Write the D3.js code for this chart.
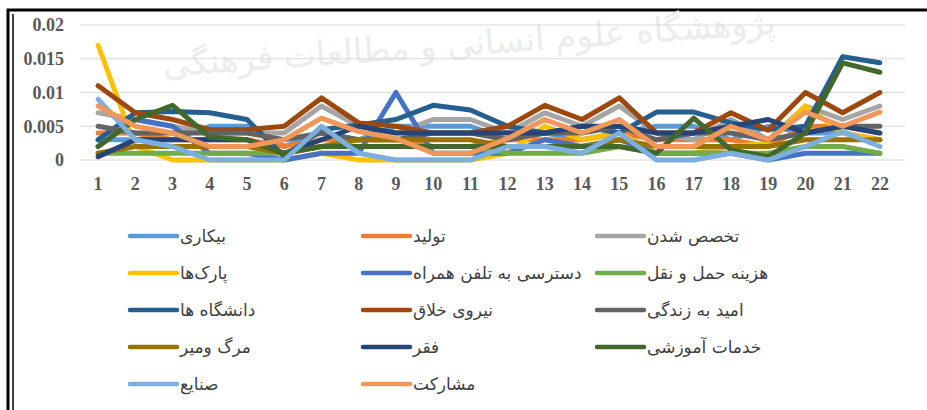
<!DOCTYPE html>
<meta charset="utf-8">
<style>
body { margin: 0; background: #fff; }
.tick text { font-family: "Liberation Serif", serif; font-weight: bold; font-size: 18px; fill: #595959; }
.grid line { stroke: #d9d9d9; stroke-width: 1px; }
.legend text { font-family: "DejaVu Sans", sans-serif; font-size: 17px; fill: #404040; }
</style>
<body>
<svg id="chart" width="927" height="410"></svg>
<script src="https://cdn.jsdelivr.net/npm/d3@7"></script>
<script>
var categories = d3.range(1, 23);
var yTicks = [0, 0.005, 0.01, 0.015, 0.02];
var yTickLabels = ["0", "0.005", "0.01", "0.015", "0.02"];

var seriesNames = ["بیکاری", "تولید", "تخصص شدن", "پارک‌ها", "دسترسی به تلفن همراه", "هزینه حمل و نقل",
  "دانشگاه ها", "نیروی خلاق", "امید به زندگی", "مرگ ومیر", "فقر", "خدمات آموزشی", "صنایع", "مشارکت"];

var bikari     = [0.003, 0.003, 0.003, 0.005, 0.005, 0.002, 0.004, 0.003, 0.005, 0.005, 0.005, 0.003, 0.004, 0.003, 0.004, 0.005, 0.005, 0.003, 0.005, 0.004, 0.004, 0.003];
var tolid      = [0.004, 0.004, 0.003, 0.003, 0.003, 0.002, 0.003, 0.003, 0.003, 0.002, 0.002, 0.003, 0.003, 0.003, 0.004, 0.003, 0.003, 0.003, 0.002, 0.005, 0.005, 0.004];
var takhasos   = [0.007, 0.006, 0.005, 0.004, 0.004, 0.004, 0.008, 0.005, 0.004, 0.006, 0.006, 0.004, 0.007, 0.005, 0.008, 0.004, 0.003, 0.006, 0.003, 0.008, 0.006, 0.008];
var parkha     = [0.017, 0.002, 0, 0, 0, 0, 0.001, 0, 0, 0, 0, 0.001, 0.005, 0.003, 0.004, 0.001, 0.001, 0.002, 0.0025, 0.008, 0.004, 0.003];
var dastresi   = [0.002, 0.006, 0.005, 0.001, 0.001, 0, 0.001, 0.001, 0.010, 0.001, 0.001, 0.001, 0.003, 0.002, 0.003, 0.001, 0.001, 0.001, 0, 0.001, 0.001, 0.001];
var hazine     = [0.001, 0.001, 0.001, 0.001, 0.001, 0.001, 0.002, 0.002, 0.002, 0.002, 0.002, 0.001, 0.001, 0.001, 0.002, 0.001, 0.001, 0.001, 0.001, 0.002, 0.002, 0.001];
var daneshgah  = [0.003, 0.007, 0.0072, 0.007, 0.006, 0.0005, 0.0045, 0.0052, 0.006, 0.0081, 0.0074, 0.005, 0.004, 0.005, 0.004, 0.0071, 0.0071, 0.0055, 0.0045, 0.005, 0.0153, 0.0144];
var niroo      = [0.011, 0.007, 0.006, 0.0045, 0.0045, 0.005, 0.0092, 0.0055, 0.005, 0.004, 0.004, 0.005, 0.0081, 0.006, 0.0092, 0.004, 0.004, 0.007, 0.0044, 0.010, 0.007, 0.010];
var omid       = [0.005, 0.004, 0.004, 0.004, 0.004, 0.003, 0.004, 0.003, 0.003, 0.004, 0.004, 0.003, 0.004, 0.004, 0.005, 0.003, 0.004, 0.004, 0.003, 0.004, 0.005, 0.005];
var margomir   = [0.001, 0.002, 0.002, 0.002, 0.002, 0.001, 0.002, 0.003, 0.003, 0.003, 0.003, 0.002, 0.002, 0.002, 0.003, 0.002, 0.002, 0.002, 0.002, 0.003, 0.003, 0.003];
var faghr      = [0.0005, 0.003, 0.003, 0.003, 0.003, 0.001, 0.003, 0.005, 0.004, 0.004, 0.004, 0.004, 0.004, 0.005, 0.005, 0.004, 0.004, 0.005, 0.006, 0.004, 0.005, 0.004];
var khadamat   = [0.002, 0.006, 0.0081, 0.0034, 0.003, 0.001, 0.002, 0.002, 0.002, 0.002, 0.002, 0.002, 0.002, 0.002, 0.002, 0.001, 0.0062, 0.0015, 0.0005, 0.004, 0.0144, 0.013];
var sanaye     = [0.009, 0.003, 0.002, 0, 0, 0, 0.005, 0.001, 0, 0, 0, 0.002, 0.002, 0.001, 0.004, 0, 0, 0.001, 0, 0.002, 0.0042, 0.002];
var mosharekat = [0.008, 0.005, 0.004, 0.002, 0.002, 0.003, 0.0062, 0.0042, 0.0032, 0.001, 0.001, 0.0032, 0.006, 0.004, 0.006, 0.002, 0.002, 0.005, 0.003, 0.0071, 0.005, 0.0071];

var seriesValues = [bikari, tolid, takhasos, parkha, dastresi, hazine, daneshgah, niroo, omid, margomir, faghr, khadamat, sanaye, mosharekat];
var colors = ["#5B9BD5", "#ED7D31", "#A5A5A5", "#FFC000", "#4472C4", "#70AD47", "#255E91", "#9E480E",
  "#636363", "#997300", "#264478", "#43682B", "#7CAFDD", "#F1975A"];

var svg = d3.select("#chart");

// scanned page frame
svg.append("rect").attr("x", 8).attr("y", 10).attr("width", 940).attr("height", 420)
  .attr("fill", "none").attr("stroke", "#000").attr("stroke-width", 3);
svg.append("line").attr("x1", 13).attr("x2", 13).attr("y1", 14).attr("y2", 410).attr("stroke", "#000").attr("stroke-width", 1.5);

// faint watermark
svg.append("text").attr("x", 470).attr("y", 55).attr("text-anchor", "middle")
  .attr("transform", "rotate(-4,470,55)")
  .style("font-family", "DejaVu Sans").style("font-size", "34px").style("fill", "#ececec")
  .text("پژوهشگاه علوم انسانی و مطالعات فرهنگی");

var x = d3.scaleBand().domain(categories).range([79.5, 898.5]);
var y = d3.scaleLinear().domain([0, 0.02]).range([160, 25]);

svg.append("g").attr("class", "grid")
  .selectAll("line").data(yTicks).enter().append("line")
  .attr("x1", 80).attr("x2", 905)
  .attr("y1", function(d) { return y(d); }).attr("y2", function(d) { return y(d); });

var yAxis = svg.append("g").attr("transform", "translate(64,0)")
  .call(d3.axisLeft(y).tickValues(yTicks).tickSize(0).tickPadding(0)
    .tickFormat(function(d, i) { return yTickLabels[i]; }));
yAxis.select(".domain").remove();

var xAxis = svg.append("g").attr("transform", "translate(0,175)")
  .call(d3.axisBottom(x).tickSize(0).tickPadding(2));
xAxis.select(".domain").remove();

var line = d3.line()
  .x(function(d, i) { return x(categories[i]) + x.bandwidth() / 2; })
  .y(function(d) { return y(d); });

svg.append("g").selectAll("path").data(seriesValues).enter().append("path")
  .attr("d", line)
  .attr("fill", "none")
  .attr("stroke", function(d, i) { return colors[i]; })
  .attr("stroke-width", 5)
  .attr("stroke-linejoin", "round")
  .attr("stroke-linecap", "round");

// legend, 3 columns
var colX = [130, 363, 597];
var legend = svg.append("g").attr("class", "legend")
  .selectAll("g").data(seriesNames).enter().append("g")
  .attr("transform", function(d, i) {
    return "translate(" + colX[i % 3] + "," + (236 + Math.floor(i / 3) * 37) + ")";
  });
legend.append("line").attr("x1", 0).attr("x2", 47).attr("y1", 0).attr("y2", 0)
  .attr("stroke", function(d, i) { return colors[i]; })
  .attr("stroke-width", 4.5).attr("stroke-linecap", "round");
legend.append("text").attr("x", 50).attr("y", 6).text(function(d) { return d; });
</script>
</body>
